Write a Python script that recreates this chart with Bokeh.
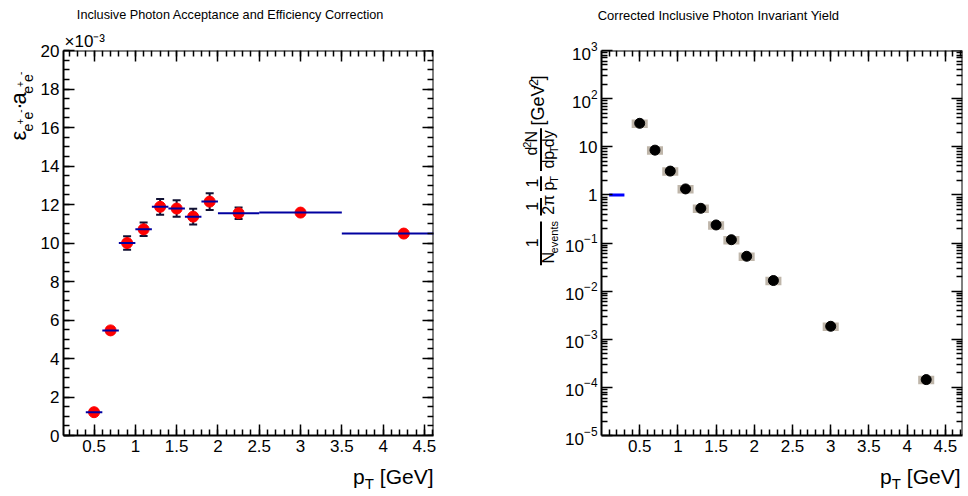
import math
from bokeh.plotting import figure
from bokeh.models import (Range1d, FixedTicker, LinearAxis, LogAxis, Label, Title,
                          CustomJSTickFormatter, LogTickFormatter, BoxAnnotation,
                          ColumnDataSource, Whisker, TeeHead)
from bokeh.layouts import row, column
from bokeh.embed import file_html
from bokeh.resources import INLINE

# ---------------- data ----------------
pt_center = [0.5, 0.7, 0.9, 1.1, 1.3, 1.5, 1.7, 1.9, 2.25, 3.0, 4.25]
pt_low = [0.4, 0.6, 0.8, 1.0, 1.2, 1.4, 1.6, 1.8, 2.0, 2.5, 3.5]
pt_high = [0.6, 0.8, 1.0, 1.2, 1.4, 1.6, 1.8, 2.0, 2.5, 3.5, 5.0]
# acceptance x efficiency, in units of 1e-3
acc_eff_e3 = [1.21, 5.46, 10.0, 10.71, 11.88, 11.79, 11.37, 12.15, 11.55, 11.58, 10.49]
acc_eff_err_e3 = [0.06, 0.15, 0.35, 0.35, 0.41, 0.43, 0.41, 0.43, 0.30, 0.12, 0.08]

# corrected invariant yield [GeV^-2]
inv_yield = [30.7, 8.5, 3.12, 1.33, 0.526, 0.237, 0.117, 0.053, 0.0166, 0.00186, 1.45e-4]
inv_yield_sys_frac = [0.2, 0.2, 0.2, 0.2, 0.2, 0.2, 0.2, 0.2, 0.2, 0.2, 0.2]
ref_x0 = [0.1]
ref_x1 = [0.3]
ref_y = [1.0]

# axis ranges, ticks and tick labels
X1_RANGE = (0.13, 4.61)
Y1_RANGE = (0.0, 20.0)
X2_RANGE = (0.0, 4.725)
Y2_RANGE = (1e-5, 1e3)
x_major = [0.5, 1.0, 1.5, 2.0, 2.5, 3.0, 3.5, 4.0, 4.5]
x_minor = [round(0.1 * k, 1) for k in range(1, 48)]
y1_major = [0, 2, 4, 6, 8, 10, 12, 14, 16, 18, 20]
y1_minor = [0.5 * k for k in range(0, 41)]
y1_multiplier = "×10⁻³"
y2_major = [1e-5, 1e-4, 1e-3, 1e-2, 1e-1, 1.0, 1e1, 1e2, 1e3]
y2_minor = [m * 10.0 ** e for e in range(-5, 3) for m in range(2, 10)]
y2_plain_ticks = [1.0, 10.0]
y2_plain_labels = ["1", "10"]

title_left = "Inclusive Photon Acceptance and Efficiency Correction"
title_right = "Corrected Inclusive Photon Invariant Yield"

# ---------------- style ----------------
FONT = "Liberation Sans"
BLUE = "#0000a0"
RED = "#ff0000"
ERR = "#111133"
SYS = "#bfb6aa"
SYS_HALF_WIDTH = 0.105
TICK_FS = "17px"
MID_SHIFT = 0.35  # distance (in em) from alphabetic baseline up to the text middle

W = {"0": .556, "1": .556, "2": .556, "3": .556, "4": .556, "5": .556, "6": .556,
     "7": .556, "8": .556, "9": .556, "-": .333, "+": .584, " ": .278, "[": .278,
     "]": .278, "G": .778, "e": .556, "V": .667, "p": .556, "T": .611, "N": .722,
     "d": .556, "y": .5, "v": .5, "n": .556, "t": .278, "s": .5, "a": .556,
     "ε": .47, "·": .278, "π": .58, "×": .584}


def tw(s, size):
    return sum(W.get(c, 0.556) for c in s) * size


def text_fig(w, h):
    f = figure(width=w, height=h, title=None, x_range=Range1d(0, w), y_range=Range1d(0, h),
               x_axis_type=None, y_axis_type=None, min_border=0,
               min_border_left=0, min_border_right=0, min_border_top=0, min_border_bottom=0,
               toolbar_location=None, output_backend="svg", outline_line_color=None)
    f.grid.visible = False
    return f


class Canvas:
    """A text-only figure placed at absolute page position (x0, y0)."""

    def __init__(self, x0, y0, w, h):
        self.fig = text_fig(w, h)
        self.x0, self.y0, self.h = x0, y0, h

    def label(self, X, Y, text, size, angle=0.0, align="left"):
        # (X, Y) is the start of the alphabetic baseline in page pixels
        if not text.strip():
            return
        if angle:
            X = X - MID_SHIFT * size
        else:
            Y = Y - MID_SHIFT * size
        self.fig.add_layout(Label(x=X - self.x0, y=self.y0 + self.h - Y, text=text,
                                  angle=angle, text_font=FONT, text_font_size=f"{size}px",
                                  text_color="black", text_align=align,
                                  text_baseline="middle"))

    def hrun(self, x_left, y_base, runs):
        x = x_left
        for t, s, d in runs:
            self.label(x, y_base + d, t, s)
            x += tw(t, s)

    def hrun_right(self, x_right, y_base, runs):
        self.hrun(x_right - sum(tw(t, s) for t, s, d in runs), y_base, runs)

    def vrun(self, x_base, y_start, runs, center=None):
        total = sum(tw(t, s) for t, s, d in runs)
        y = y_start if center is None else center + total / 2
        for t, s, d in runs:
            self.label(x_base + d, y, t, s, angle=math.pi / 2)
            y -= tw(t, s)

    def vbar(self, x, y1, y2):
        self.fig.add_layout(BoxAnnotation(left=x - 1 - self.x0, right=x + 1 - self.x0,
                                          top=self.y0 + self.h - y1,
                                          bottom=self.y0 + self.h - y2,
                                          fill_color="black", fill_alpha=1.0, line_color=None))


def style_axis(ax, major, minor, labels=True):
    ax.ticker = FixedTicker(ticks=major, minor_ticks=minor)
    ax.axis_line_width = 2
    ax.axis_line_color = "black"
    ax.major_tick_in = 11
    ax.major_tick_out = 0
    ax.minor_tick_in = 6
    ax.minor_tick_out = 0
    ax.major_tick_line_width = 1.5
    ax.minor_tick_line_width = 1.5
    ax.major_tick_line_color = "black"
    ax.minor_tick_line_color = "black"
    ax.major_label_text_font = FONT
    ax.major_label_text_color = "black"
    if labels:
        ax.major_label_text_font_size = TICK_FS
        ax.major_label_standoff = 4
        ax.formatter = CustomJSTickFormatter(code="return tick.toString();")
    else:
        ax.major_label_text_font_size = "0px"
        ax.major_label_standoff = 0
        ax.formatter = CustomJSTickFormatter(code="return '';")


def base_fig(w, h, frame_w, border_left, x_rng, y_rng, y_type="linear"):
    f = figure(width=w, height=h, title=None, frame_width=frame_w, frame_height=FRAME_H,
               min_border_left=border_left, min_border_right=w - border_left - frame_w,
               min_border_top=BORDER_TOP, min_border_bottom=h - BORDER_TOP - FRAME_H,
               x_range=Range1d(*x_rng), y_range=Range1d(*y_rng), y_axis_type=y_type,
               output_backend="svg", toolbar_location=None)
    f.xgrid.visible = False
    f.ygrid.visible = False
    f.outline_line_color = None
    return f


# ---------------- page geometry (absolute pixels) ----------------
TOP_H = 24
BORDER_TOP = 26
FRAME_H = 385
BORDER_BOTTOM = 30
MID_H = BORDER_TOP + FRAME_H + BORDER_BOTTOM
BOT_H = 496 - TOP_H - MID_H
YL1_W = 37
P1_W = 484 - YL1_W
YL2_W = 78
P2_W = 968 - 484 - YL2_W

# ---------------- left panel ----------------
p1 = base_fig(P1_W, MID_H, 370, 26, X1_RANGE, Y1_RANGE)
style_axis(p1.below[0], x_major, x_minor)
style_axis(p1.left[0], y1_major, y1_minor)
ax = LinearAxis(fixed_location=Y1_RANGE[1])
style_axis(ax, x_major, x_minor, labels=False)
p1.add_layout(ax, "above")
ax = LinearAxis(fixed_location=X1_RANGE[1])
style_axis(ax, y1_major, y1_minor, labels=False)
p1.add_layout(ax, "right")
p1.add_layout(Title(text=y1_multiplier, align="left", offset=1, standoff=0,
                    vertical_align="bottom", text_font=FONT, text_font_size="17px",
                    text_font_style="normal", text_color="black"), "above")

src1 = ColumnDataSource(dict(
    x=pt_center, lo=pt_low, hi=pt_high, y=acc_eff_e3,
    upper=[v + e for v, e in zip(acc_eff_e3, acc_eff_err_e3)],
    lower=[v - e for v, e in zip(acc_eff_e3, acc_eff_err_e3)]))
p1.scatter("x", "y", source=src1, size=11, fill_color=RED, line_color=RED)
p1.segment(x0="lo", x1="hi", y0="y", y1="y", source=src1, line_color=BLUE, line_width=2)
p1.add_layout(Whisker(source=src1, base="x", upper="upper", lower="lower", dimension="height",
                      line_color=ERR, line_width=2,
                      upper_head=TeeHead(size=8, line_color=ERR, line_width=2),
                      lower_head=TeeHead(size=8, line_color=ERR, line_width=2)))

# ---------------- right panel ----------------
p2 = base_fig(P2_W, MID_H, 361, 37, X2_RANGE, Y2_RANGE, y_type="log")
style_axis(p2.below[0], x_major, x_minor)
style_axis(p2.left[0], y2_major, y2_minor)
p2.left[0].formatter = LogTickFormatter(min_exponent=0)
p2.left[0].major_label_overrides = dict(zip(y2_plain_ticks, y2_plain_labels))
ax = LinearAxis(fixed_location=Y2_RANGE[1])
style_axis(ax, x_major, x_minor, labels=False)
p2.add_layout(ax, "above")
ax = LogAxis(fixed_location=X2_RANGE[1])
style_axis(ax, y2_major, y2_minor, labels=False)
p2.add_layout(ax, "right")

src2 = ColumnDataSource(dict(
    x=pt_center, y=inv_yield,
    left=[v - SYS_HALF_WIDTH for v in pt_center],
    right=[v + SYS_HALF_WIDTH for v in pt_center],
    top=[v * (1 + f) for v, f in zip(inv_yield, inv_yield_sys_frac)],
    bottom=[v * (1 - f) for v, f in zip(inv_yield, inv_yield_sys_frac)]))
p2.quad(left="left", right="right", top="top", bottom="bottom", source=src2,
        fill_color=SYS, line_color=None)
p2.scatter("x", "y", source=src2, size=10, fill_color="black", line_color="black")
p2.segment(x0=ref_x0, x1=ref_x1, y0=ref_y, y1=ref_y, line_color="#0000ff", line_width=3)

# ---------------- text canvases ----------------
top = Canvas(0, 0, 968, TOP_H)
top.label(230, 19, title_left, 12.7, align="center")
top.label(718, 20, title_right, 13, align="center")

bot = Canvas(0, TOP_H + MID_H, 968, BOT_H)
xtitle = [("p", 21, 0), ("T", 15, 5), (" ", 21, 0), ("[GeV]", 21, 0)]
bot.hrun_right(433, 483, xtitle)
bot.hrun_right(960, 483, xtitle)

yl1 = Canvas(0, TOP_H, YL1_W, MID_H)
yl1.vrun(26, 127, [("ε", 22, 0), ("e", 14, 6), ("+", 10, -3), ("e", 14, 6),
                   ("-", 10, -3), ("·", 22, 0), ("a", 22, 0), ("e", 14, 6),
                   ("+", 10, -3), ("e", 14, 6), ("-", 10, -3)])

yl2 = Canvas(484, TOP_H, YL2_W, MID_H)
NUM_X, DEN_X, BAR_X = 537, 554, 540.5
yl2.vrun(NUM_X, 0, [("1", 16, 0)], center=245)
yl2.vrun(DEN_X, 0, [("N", 16, 0), ("events", 11, 3)], center=246)
yl2.vbar(BAR_X, 220, 270)
yl2.vrun(NUM_X, 0, [("1", 16, 0)], center=203)
yl2.vrun(DEN_X, 0, [("2π", 16, 0)], center=203)
yl2.vbar(BAR_X, 193, 213)
yl2.vrun(NUM_X, 0, [("1", 16, 0)], center=176.5)
yl2.vrun(DEN_X, 0, [("p", 16, 0), ("T", 11, 3)], center=176.5)
yl2.vbar(BAR_X, 168, 185)
yl2.vrun(NUM_X, 0, [("d", 16, 0), ("2", 11, -7), ("N", 16, 0)], center=131)
yl2.vrun(DEN_X, 0, [("dp", 16, 0), ("T", 11, 3), ("dy", 16, 0)], center=138.5)
yl2.vbar(BAR_X, 113, 162)
yl2.vrun(544, 110, [("[GeV", 18, 0), ("-2", 12, -7), ("]", 18, 0)])

layout = column(top.fig,
                row(yl1.fig, p1, yl2.fig, p2),
                bot.fig)
open("out.html", "w").write(file_html(layout, INLINE))
